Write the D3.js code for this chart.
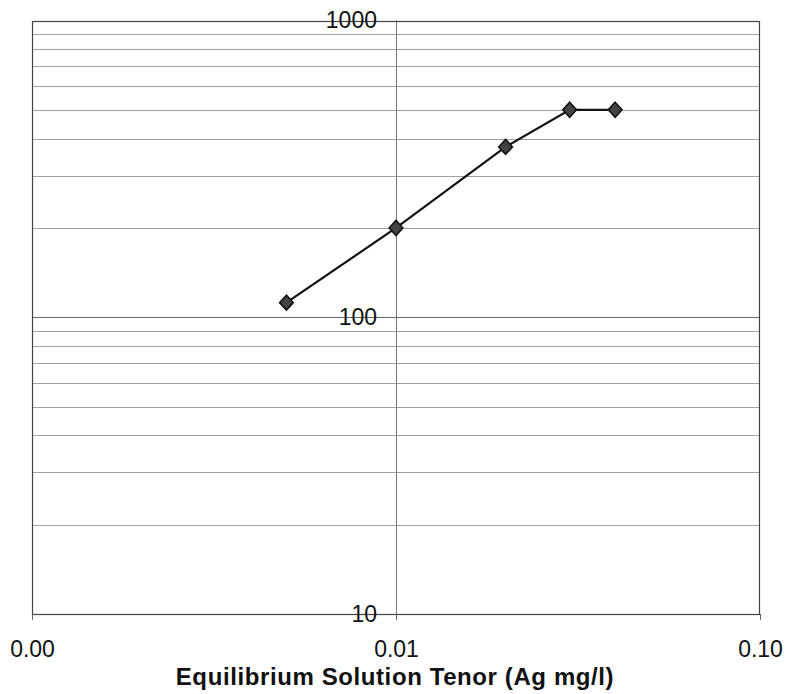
<!DOCTYPE html>
<html><head><meta charset="utf-8">
<script src="https://cdn.jsdelivr.net/npm/d3@7"></script>
<style>body{margin:0;background:#fff}svg{display:block}</style>
</head><body>
<svg id="chart" width="786" height="694"></svg>
<script>
const tenor = [0.005, 0.01, 0.02, 0.03, 0.04];
const loading = [112, 200, 375, 500, 500];
const xTickValues = [0.001, 0.01, 0.1];
const xTickLabels = ["0.00", "0.01", "0.10"];
const yTickValues = [10, 100, 1000];
const yTickLabels = ["10", "100", "1000"];
const xTitle = "Equilibrium Solution Tenor (Ag mg/l)";

const svg = d3.select("#chart");
const L = 32, R = 760, T = 20.5, B = 614;
const x = d3.scaleLog().domain([0.001, 0.1]).range([L, R]);
const y = d3.scaleLog().domain([10, 1000]).range([B, T]);
const font = "'Liberation Sans', Arial, sans-serif";

// horizontal gridlines (minor + major)
const gridVals = [];
for (let d = 10; d < 1000; d *= 10) for (let k = 1; k <= 9; k++) gridVals.push(d * k);
gridVals.push(1000);
svg.append("g").selectAll("line").data(gridVals).join("line")
  .attr("x1", L).attr("x2", R)
  .attr("y1", d => Math.round(y(d)) + 0.5).attr("y2", d => Math.round(y(d)) + 0.5)
  .attr("stroke", d => (d === 100 ? "#666" : "#a0a0a0"))
  .attr("stroke-width", 1);

// vertical gridline at 0.01
svg.append("line")
  .attr("x1", Math.round(x(0.01)) + 0.5).attr("x2", Math.round(x(0.01)) + 0.5)
  .attr("y1", T).attr("y2", B + 6)
  .attr("stroke", "#777").attr("stroke-width", 1);

// plot border
svg.append("rect").attr("x", L + 0.5).attr("y", Math.round(T) + 0.5)
  .attr("width", R - L - 1).attr("height", B - Math.round(T))
  .attr("fill", "none").attr("stroke", "#444").attr("stroke-width", 1.2);

// x axis
const xAxis = d3.axisBottom(x).tickValues(xTickValues)
  .tickFormat((d, i) => xTickLabels[i]).tickSize(6).tickPadding(21);
const gx = svg.append("g").attr("transform", `translate(0,${B})`).call(xAxis);
gx.select(".domain").remove();
gx.selectAll(".tick line").attr("stroke", "#666");
gx.selectAll(".tick text").attr("font-family", font).attr("font-size", 23).attr("fill", "#111");

// y axis located at x = 0.01
const yAxis = d3.axisLeft(y).tickValues(yTickValues)
  .tickFormat((d, i) => yTickLabels[i]).tickSize(0).tickPadding(19);
const gy = svg.append("g").attr("transform", `translate(${x(0.01)},0)`).call(yAxis);
gy.select(".domain").remove();
gy.selectAll(".tick text").attr("font-family", font).attr("font-size", 23).attr("fill", "#111");

// x title
svg.append("text").attr("x", 395).attr("y", 685).attr("text-anchor", "middle")
  .attr("font-family", font).attr("font-weight", "bold").attr("font-size", 24)
  .attr("letter-spacing", 0.6)
  .attr("fill", "#111").text(xTitle);

// line
const pts = tenor.map((t, i) => [t, loading[i]]);
svg.append("path").datum(pts)
  .attr("d", d3.line().x(d => x(d[0])).y(d => y(d[1])))
  .attr("fill", "none").attr("stroke", "#111").attr("stroke-width", 2.2);

// markers
const diamond = d3.symbol().type(d3.symbolDiamond2).size(120);
svg.append("g").selectAll("path").data(pts).join("path")
  .attr("transform", d => `translate(${x(d[0])},${y(d[1])}) scale(1,1.1)`)
  .attr("d", diamond)
  .attr("fill", "#444").attr("stroke", "#111").attr("stroke-width", 1.5);
</script>
</body></html>
